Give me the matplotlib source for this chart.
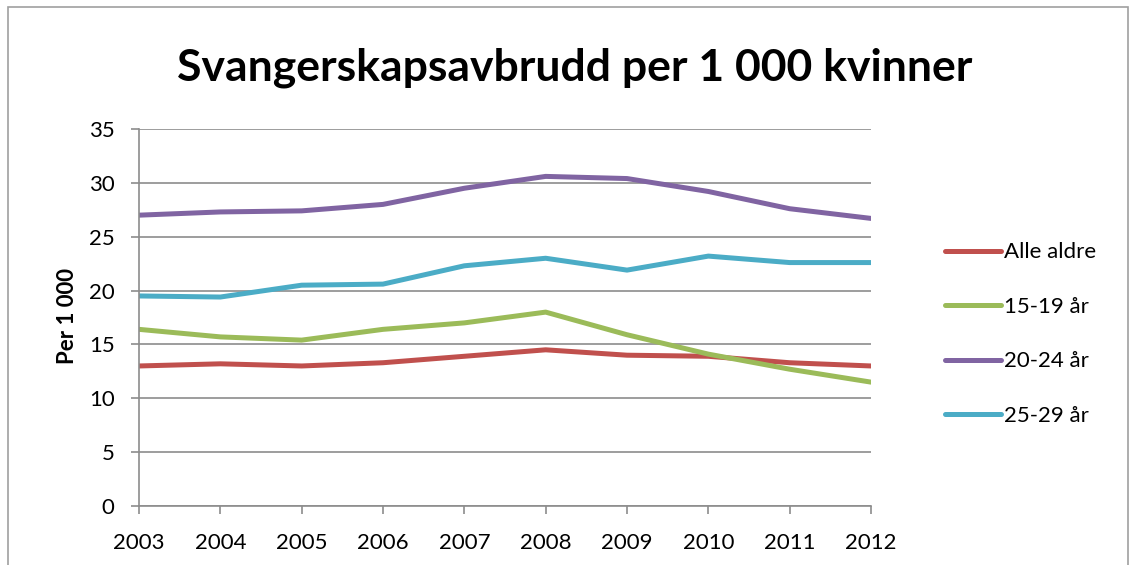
import matplotlib.pyplot as plt
from matplotlib.patches import Rectangle

plt.rcParams['font.family'] = ['Lato', 'DejaVu Sans']

years = [2003, 2004, 2005, 2006, 2007, 2008, 2009, 2010, 2011, 2012]
alle_aldre = [13.0, 13.2, 13.0, 13.3, 13.9, 14.5, 14.0, 13.9, 13.3, 13.0]
aar_15_19 = [16.4, 15.7, 15.4, 16.4, 17.0, 18.0, 15.9, 14.1, 12.7, 11.5]
aar_20_24 = [27.0, 27.3, 27.4, 28.0, 29.5, 30.6, 30.4, 29.2, 27.6, 26.7]
aar_25_29 = [19.5, 19.4, 20.5, 20.6, 22.3, 23.0, 21.9, 23.2, 22.6, 22.6]

series = [
    ("Alle aldre", alle_aldre, "#C0504D"),
    ("15-19 år", aar_15_19, "#9BBB59"),
    ("20-24 år", aar_20_24, "#8064A2"),
    ("25-29 år", aar_25_29, "#4BACC6"),
]

fig = plt.figure(figsize=(11.33, 5.65), dpi=100)
# chart frame
fig.patches.append(Rectangle((8 / 1133, -0.1), 1120 / 1133, 1.1 - 7 / 565,
                             transform=fig.transFigure, fill=False,
                             edgecolor="#a0a0a0", linewidth=1.2))

ax = fig.add_axes([139 / 1133, 1 - 506 / 565, 732 / 1133, 377 / 565])
grid_col = "#8c8c8c"
for name, vals, col in series:
    ax.plot(years, vals, color=col, linewidth=3.6, label=name,
            solid_capstyle="round")

ax.set_xlim(2003, 2012)
ax.set_ylim(0, 35)
ax.set_yticks(range(0, 36, 5))
ax.set_xticks(years)
ax.yaxis.grid(True, color=grid_col, linewidth=1.2)
ax.set_axisbelow(True)
for s in ["top", "right"]:
    ax.spines[s].set_visible(False)
for s in ["left", "bottom"]:
    ax.spines[s].set_color(grid_col)
    ax.spines[s].set_linewidth(1.2)
ax.tick_params(axis="both", colors=grid_col, length=5.5, width=1.2,
               labelcolor="black", labelsize=16, direction="out")
ax.tick_params(axis="x", pad=14)
ax.tick_params(axis="y", pad=12)
ax.set_ylabel("Per 1 000", fontsize=16, fontweight="bold")
ax.yaxis.set_label_coords(-0.083, 0.504)

fig.text(575 / 1133, 1 - 68 / 565, "Svangerskapsavbrudd per 1 000 kvinner",
         ha="center", va="center", fontsize=32, fontweight="bold")

ax.legend(loc="center left", bbox_to_anchor=(1.089, 0.456), frameon=False,
          fontsize=16, handlelength=2.5, handletextpad=0.15,
          labelspacing=1.55, borderaxespad=0)

fig.savefig("out.png", dpi=100)
